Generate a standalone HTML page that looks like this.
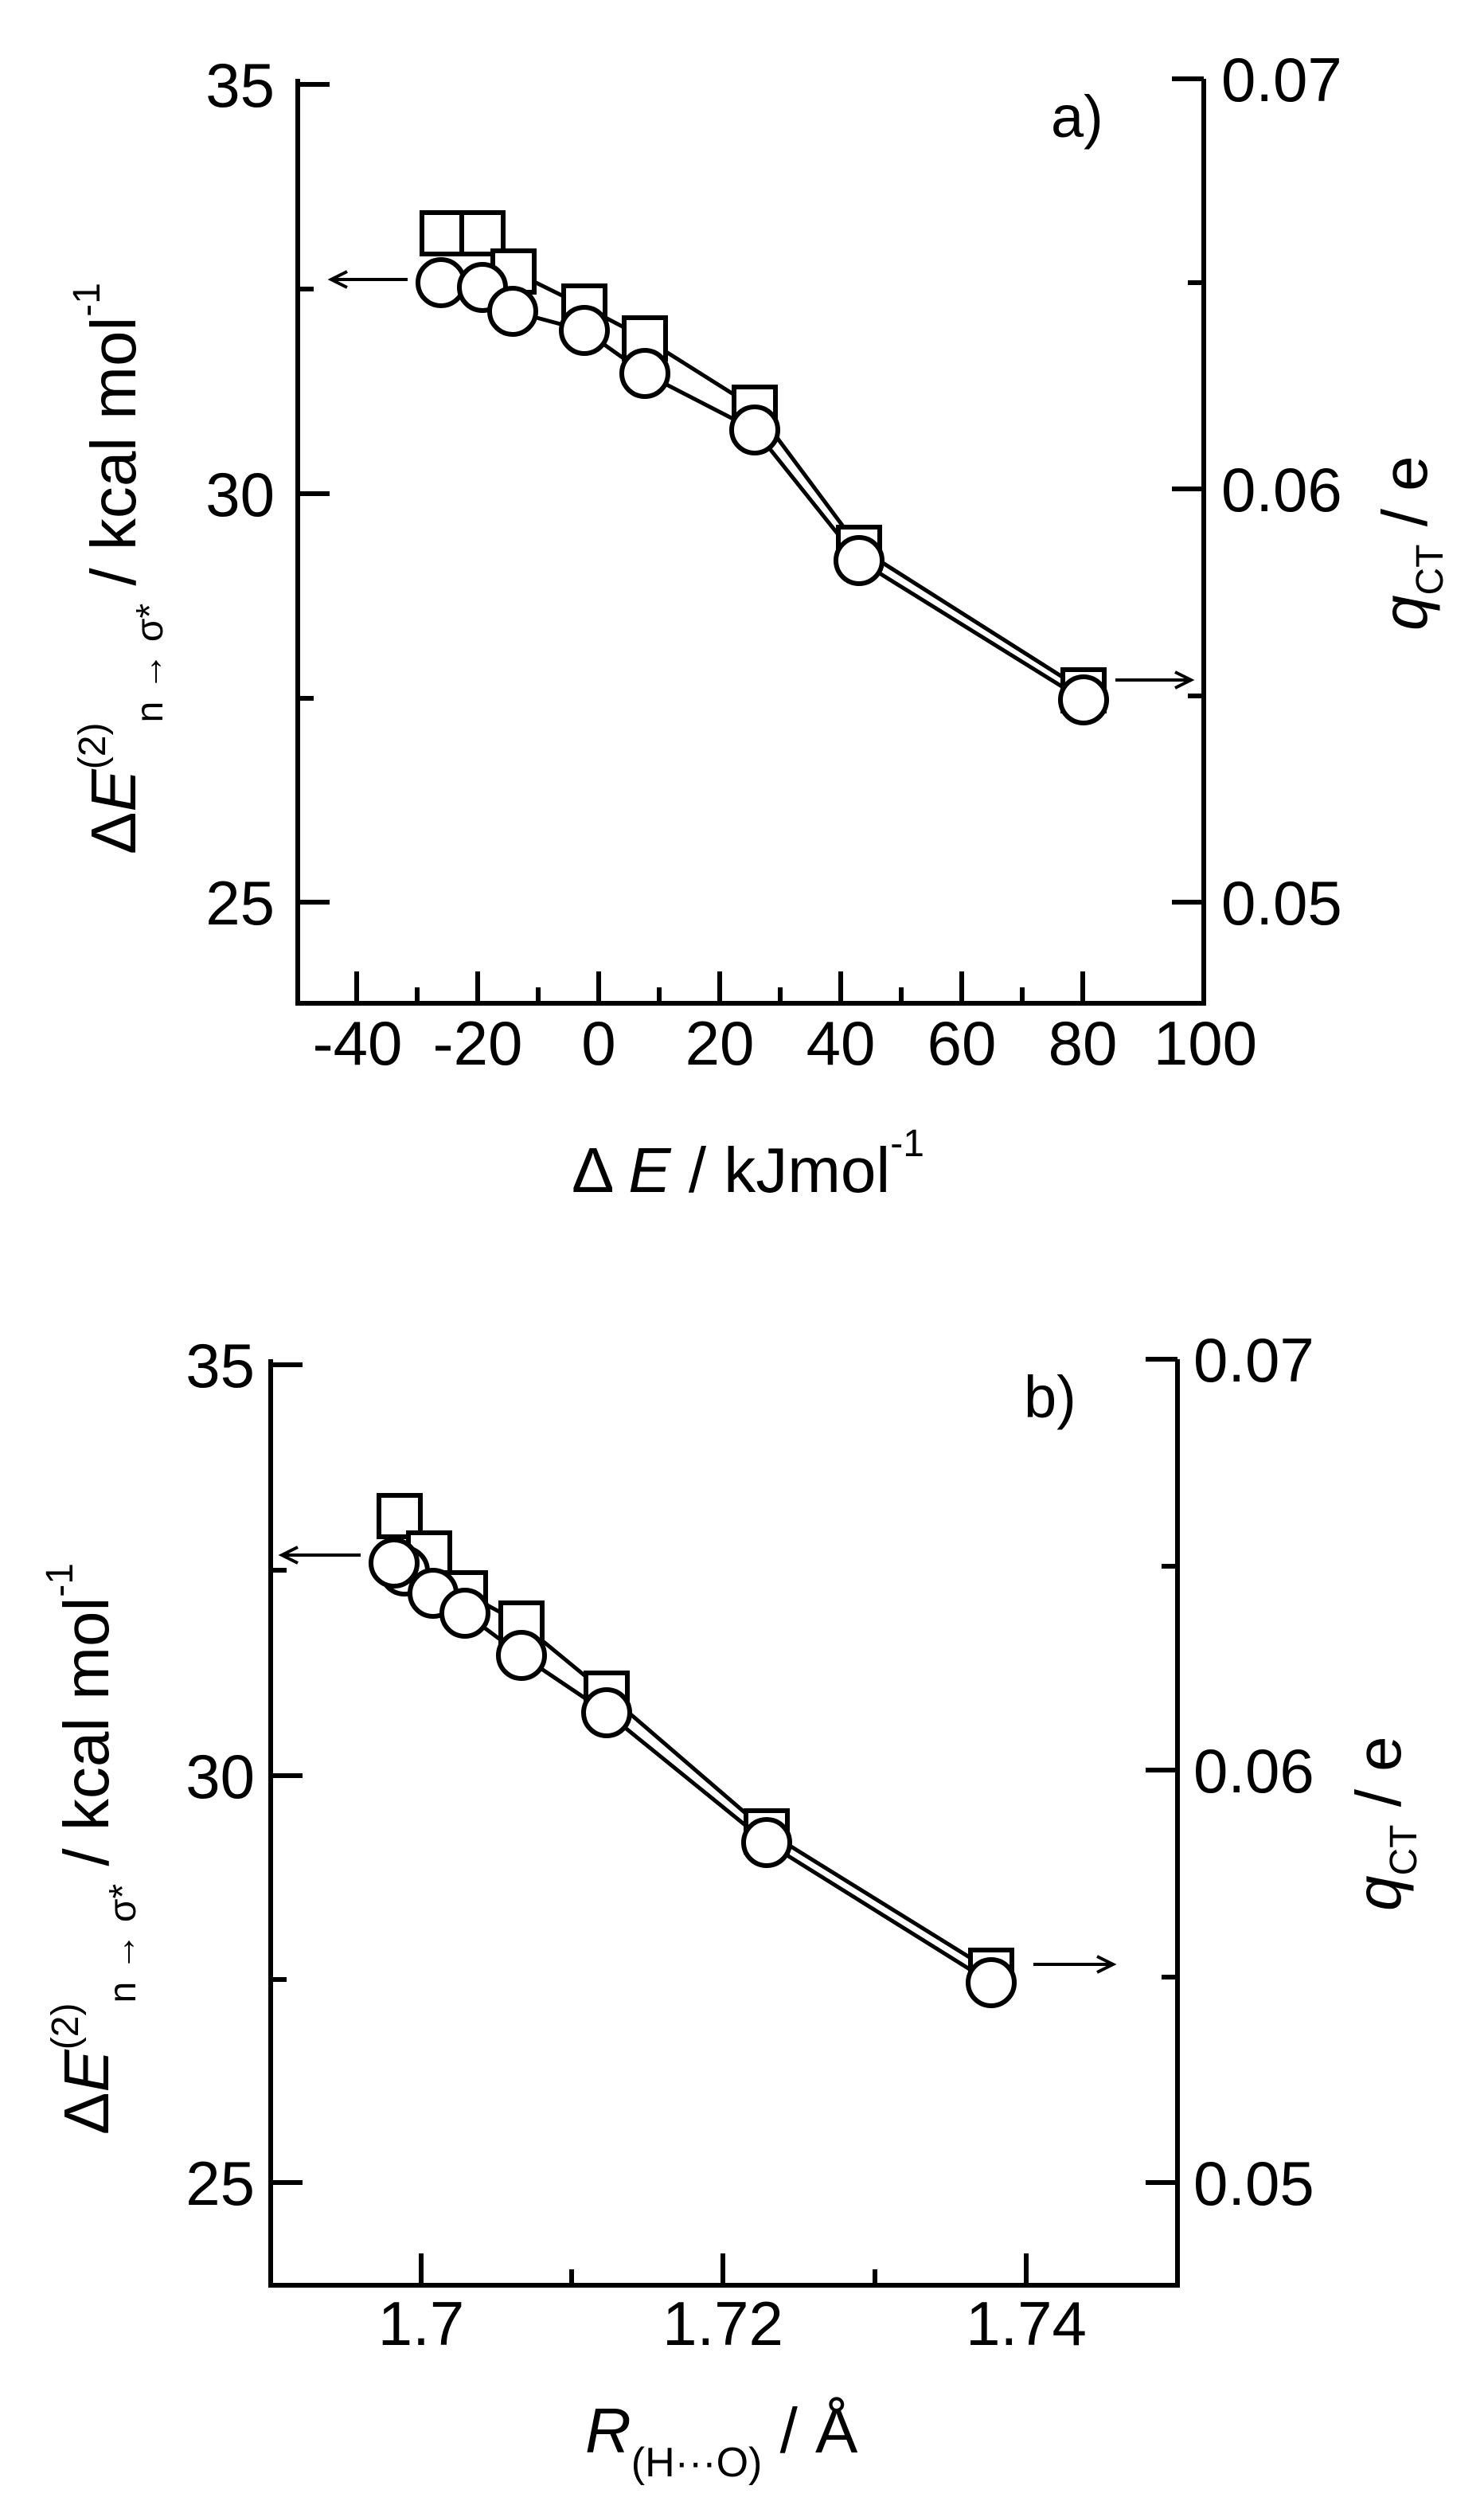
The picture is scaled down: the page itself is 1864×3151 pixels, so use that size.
<!DOCTYPE html>
<html><head><meta charset="utf-8"><style>html,body{margin:0;padding:0;background:#fff}svg{display:block}</style></head>
<body>
<svg width="1864" height="3151" viewBox="0 0 1864 3151" xmlns="http://www.w3.org/2000/svg" font-family="Liberation Sans, Arial, sans-serif" fill="#000">
<!-- ================= PANEL A ================= -->
<g stroke="#000" stroke-width="6" fill="none">
<polyline points="374,99 374,1260 1512,1260 1512,99"/>
<line x1="374" y1="106" x2="414" y2="106"/><line x1="374" y1="620" x2="414" y2="620"/><line x1="374" y1="1133" x2="414" y2="1133"/>
<line x1="374" y1="363" x2="394" y2="363"/><line x1="374" y1="877" x2="394" y2="877"/>
<line x1="1512" y1="99" x2="1472" y2="99"/><line x1="1512" y1="614" x2="1472" y2="614"/><line x1="1512" y1="1133" x2="1472" y2="1133"/>
<line x1="1512" y1="355" x2="1492" y2="355"/><line x1="1512" y1="874" x2="1492" y2="874"/>
<line x1="448" y1="1260" x2="448" y2="1220"/><line x1="600" y1="1260" x2="600" y2="1220"/><line x1="752" y1="1260" x2="752" y2="1220"/><line x1="904" y1="1260" x2="904" y2="1220"/><line x1="1056" y1="1260" x2="1056" y2="1220"/><line x1="1208" y1="1260" x2="1208" y2="1220"/><line x1="1360" y1="1260" x2="1360" y2="1220"/>
<line x1="524" y1="1260" x2="524" y2="1240"/><line x1="676" y1="1260" x2="676" y2="1240"/><line x1="828" y1="1260" x2="828" y2="1240"/><line x1="980" y1="1260" x2="980" y2="1240"/><line x1="1132" y1="1260" x2="1132" y2="1240"/><line x1="1284" y1="1260" x2="1284" y2="1240"/>
</g>
<g stroke="#000" stroke-width="5" fill="none">
<polyline points="556,293 606,293 645,341 734,385 810,425 948,512 1079,688 1361,867"/>
<polyline points="554,355 606,361 644,391 734,415 810,469 948,540 1079,704 1361,879"/>
</g>
<g stroke="#000" stroke-width="6" fill="#fff">
<rect x="530" y="267" width="52" height="52"/><rect x="580" y="267" width="52" height="52"/><rect x="619" y="315" width="52" height="52"/><rect x="708" y="359" width="52" height="52"/><rect x="784" y="399" width="52" height="52"/><rect x="922" y="486" width="52" height="52"/><rect x="1053" y="662" width="52" height="52"/><rect x="1335" y="841" width="52" height="52"/>
<circle cx="554" cy="355" r="29"/><circle cx="606" cy="361" r="29"/><circle cx="644" cy="391" r="29"/><circle cx="734" cy="415" r="29"/><circle cx="810" cy="469" r="29"/><circle cx="948" cy="540" r="29"/><circle cx="1079" cy="704" r="29"/><circle cx="1361" cy="879" r="29"/>
</g>
<g stroke="#000" stroke-width="4" fill="none">
<line x1="512" y1="351" x2="416" y2="351"/><polyline points="436,341 416,351 436,361"/>
<line x1="1401" y1="854" x2="1496" y2="854"/><polyline points="1476,844 1496,854 1476,864"/>
</g>
<g font-size="78" text-anchor="end">
<text x="345" y="134">35</text><text x="345" y="648">30</text><text x="345" y="1161">25</text>
</g>
<g font-size="78">
<text x="1534" y="127">0.07</text><text x="1534" y="642">0.06</text><text x="1534" y="1161">0.05</text>
</g>
<g font-size="78" text-anchor="middle">
<text x="449" y="1337">-40</text><text x="600" y="1337">-20</text><text x="752" y="1337">0</text><text x="904" y="1337">20</text><text x="1056" y="1337">40</text><text x="1208" y="1337">60</text><text x="1360" y="1337">80</text><text x="1514" y="1337">100</text>
</g>
<text x="1320" y="172" font-size="74">a)</text>
<text x="718" y="1497" font-size="80">Δ <tspan font-style="italic">E</tspan> / kJmol<tspan font-size="48" dy="-45">-1</tspan></text>
<text transform="translate(170,1073) rotate(-90)" font-size="80">Δ<tspan font-style="italic">E</tspan><tspan font-size="48" dy="-38">(2)</tspan><tspan font-size="48" dy="72">n → σ*</tspan><tspan dy="-34"> / kcal mol</tspan><tspan font-size="48" dy="-45">-1</tspan></text>
<text transform="translate(1792,792) rotate(-90)" font-size="80"><tspan font-style="italic">q</tspan><tspan font-size="48" dy="20">CT</tspan><tspan dy="-20"> / e</tspan></text>

<!-- ================= PANEL B ================= -->
<g stroke="#000" stroke-width="6" fill="none">
<polyline points="340,1707 340,2870 1479,2870 1479,1707"/>
<line x1="340" y1="1714" x2="380" y2="1714"/><line x1="340" y1="2230" x2="380" y2="2230"/><line x1="340" y1="2741" x2="380" y2="2741"/>
<line x1="340" y1="1972" x2="360" y2="1972"/><line x1="340" y1="2486" x2="360" y2="2486"/>
<line x1="1479" y1="1707" x2="1439" y2="1707"/><line x1="1479" y1="2223" x2="1439" y2="2223"/><line x1="1479" y1="2741" x2="1439" y2="2741"/>
<line x1="1479" y1="1967" x2="1459" y2="1967"/><line x1="1479" y1="2483" x2="1459" y2="2483"/>
<line x1="529" y1="2870" x2="529" y2="2830"/><line x1="908" y1="2870" x2="908" y2="2830"/><line x1="1289" y1="2870" x2="1289" y2="2830"/>
<line x1="718" y1="2870" x2="718" y2="2850"/><line x1="1099" y1="2870" x2="1099" y2="2850"/>
</g>
<g stroke="#000" stroke-width="5" fill="none">
<polyline points="502,1904 539,1951 584,2001 655,2039 762,2127 963,2300 1245,2475"/>
<polyline points="495,1963 508,1973 544,2001 584,2026 655,2079 762,2151 963,2314 1245,2490"/>
</g>
<g stroke="#000" stroke-width="6" fill="#fff">
<rect x="476" y="1878" width="52" height="52"/><rect x="513" y="1925" width="52" height="52"/><rect x="558" y="1975" width="52" height="52"/><rect x="629" y="2013" width="52" height="52"/><rect x="736" y="2101" width="52" height="52"/><rect x="937" y="2274" width="52" height="52"/><rect x="1219" y="2449" width="52" height="52"/>
<circle cx="508" cy="1973" r="29"/><circle cx="495" cy="1963" r="29"/><circle cx="544" cy="2001" r="29"/><circle cx="584" cy="2026" r="29"/><circle cx="655" cy="2079" r="29"/><circle cx="762" cy="2151" r="29"/><circle cx="963" cy="2314" r="29"/><circle cx="1245" cy="2490" r="29"/>
</g>
<g stroke="#000" stroke-width="4" fill="none">
<line x1="453" y1="1953" x2="354" y2="1953"/><polyline points="374,1943 354,1953 374,1963"/>
<line x1="1298" y1="2467" x2="1398" y2="2467"/><polyline points="1378,2457 1398,2467 1378,2477"/>
</g>
<g font-size="78" text-anchor="end">
<text x="320" y="1742">35</text><text x="320" y="2258">30</text><text x="320" y="2769">25</text>
</g>
<g font-size="78">
<text x="1499" y="1735">0.07</text><text x="1499" y="2251">0.06</text><text x="1499" y="2769">0.05</text>
</g>
<g font-size="78" text-anchor="middle">
<text x="529" y="2945">1.7</text><text x="908" y="2945">1.72</text><text x="1289" y="2945">1.74</text>
</g>
<text x="1286" y="1780" font-size="74">b)</text>
<text x="735" y="3080" font-size="80"><tspan font-style="italic">R</tspan><tspan font-size="52" dy="30">(H···O)</tspan><tspan dy="-30"> / Å</tspan></text>
<text transform="translate(136,2681) rotate(-90)" font-size="80">Δ<tspan font-style="italic">E</tspan><tspan font-size="48" dy="-38">(2)</tspan><tspan font-size="48" dy="72">n → σ*</tspan><tspan dy="-34"> / kcal mol</tspan><tspan font-size="48" dy="-45">-1</tspan></text>
<text transform="translate(1759,2400) rotate(-90)" font-size="80"><tspan font-style="italic">q</tspan><tspan font-size="48" dy="20">CT</tspan><tspan dy="-20"> / e</tspan></text>
</svg>
</body></html>
